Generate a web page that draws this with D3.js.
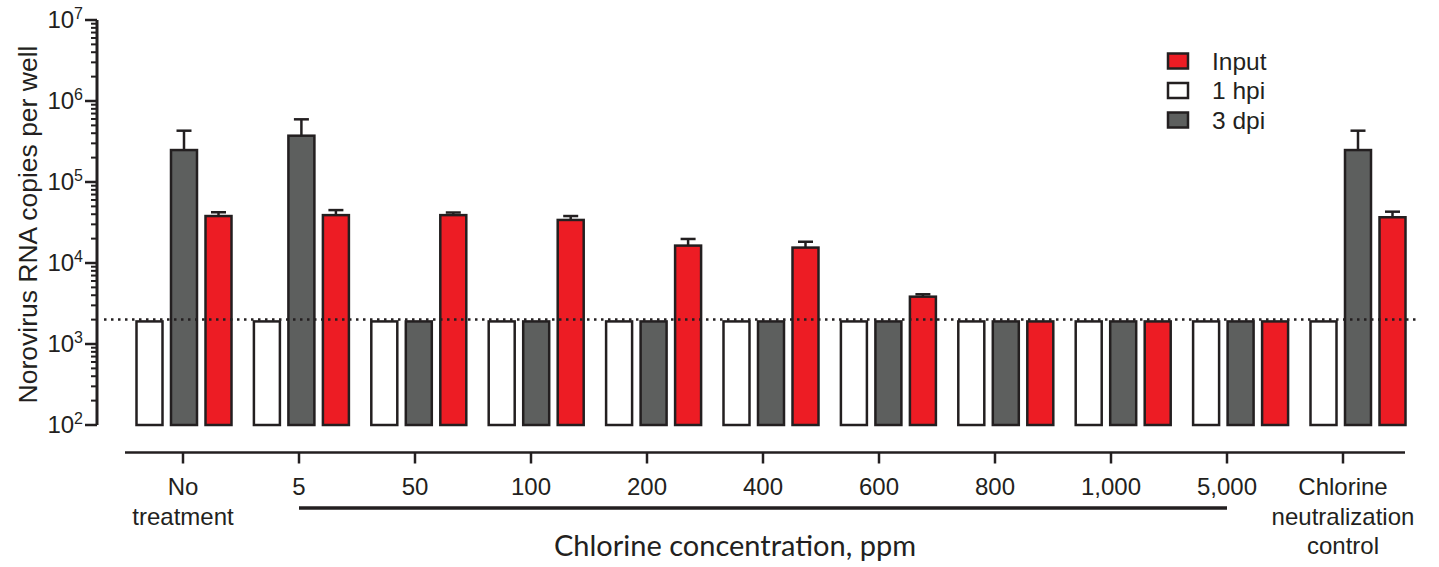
<!DOCTYPE html>
<html lang="en">
<head>
    <meta charset="UTF-8">
    <title>Norovirus RNA copies by chlorine concentration</title>
    <script src="https://d3js.org/d3.v7.min.js"></script>
    <style>
        body {
            margin: 0;
            background: #fff;
        }
        svg text {
            font-family: "Liberation Sans", Arial, sans-serif;
            fill: #231f20;
        }
    </style>
</head>
<body>
    <svg id="chart" width="1439" height="567"></svg>

    <script>
        // categories
        const groups = ["No treatment", "5", "50", "100", "200", "400", "600", "800", "1,000", "5,000",
            "Chlorine neutralization control"];
        const tickLabels = [["No", "treatment"], ["5"], ["50"], ["100"], ["200"], ["400"], ["600"],
            ["800"], ["1,000"], ["5,000"], ["Chlorine", "neutralization", "control"]];
        const seriesOrder = ["1 hpi", "3 dpi", "Input"];   // order of bars in a group
        const legendOrder = ["Input", "1 hpi", "3 dpi"];

        // values (copies per well)
        const hpi1 = [1900, 1900, 1900, 1900, 1900, 1900, 1900, 1900, 1900, 1900, 1900];
        const dpi3 = [248000, 373000, 1900, 1900, 1900, 1900, 1900, 1900, 1900, 1900, 248000];
        const dpi3Err = [430000, 594000, null, null, null, null, null, null, null, null, 430000];
        const input = [38000, 39000, 39000, 34000, 16400, 15500, 3840, 1900, 1900, 1900, 36700];
        const inputErr = [42300, 45000, 42000, 38000, 19800, 18300, 4110, null, null, null, 43000];
        const hpi1Err = hpi1.map(() => null);

        const detectionLimit = 2000;
        const yTicks = [1e2, 1e3, 1e4, 1e5, 1e6, 1e7];

        const colors = { "Input": "#ed1c24", "1 hpi": "#ffffff", "3 dpi": "#5d5f5e" };
        const ink = "#231f20";

        const series = {
            "1 hpi": { values: hpi1, err: hpi1Err },
            "3 dpi": { values: dpi3, err: dpi3Err },
            "Input": { values: input, err: inputErr }
        };

        const svg = d3.select("#chart");

        const y = d3.scaleLog().domain([1e2, 1e7]).range([425, 20]);
        const xGroup = d3.scalePoint().domain(groups).range([184, 1358]);
        const xTick = d3.scalePoint().domain(groups).range([183, 1343]);
        const xSeries = d3.scalePoint().domain(seriesOrder).range([-34.5, 34.5]);
        const barW = 26;

        // y axis
        const minorTicks = [];
        for (let e = 2; e < 7; e++) {
            for (let m = 2; m <= 9; m++) minorTicks.push(m * Math.pow(10, e));
        }
        const yAxisG = svg.append("g").attr("transform", "translate(97,0)");
        yAxisG.append("line")
            .attr("y1", y(1e2)).attr("y2", y(1e7))
            .attr("stroke", ink).attr("stroke-width", 3);
        yAxisG.selectAll(".minor").data(minorTicks).enter().append("line")
            .attr("x1", -6).attr("x2", 0)
            .attr("y1", d => y(d)).attr("y2", d => y(d))
            .attr("stroke", ink).attr("stroke-width", 2);
        yAxisG.selectAll(".major").data(yTicks).enter().append("line")
            .attr("x1", -12).attr("x2", 0)
            .attr("y1", d => y(d)).attr("y2", d => y(d))
            .attr("stroke", ink).attr("stroke-width", 2.5);
        const yLab = yAxisG.selectAll(".ylab").data(yTicks).enter().append("text")
            .attr("x", -14).attr("y", d => y(d) + 8)
            .attr("text-anchor", "end")
            .style("font-size", "24px");
        yLab.append("tspan").text("10");
        yLab.append("tspan").attr("dy", -9).style("font-size", "16px")
            .text(d => Math.round(Math.log10(d)));

        svg.append("text")
            .attr("transform", `translate(37,${(y(1e2) + y(1e7)) / 2 + 2}) rotate(-90)`)
            .attr("text-anchor", "middle")
            .style("font-size", "26.5px")
            .text("Norovirus RNA copies per well");

        // bars
        const plot = svg.append("g");
        seriesOrder.forEach(s => {
            const rows = groups.map((g, i) => ({ g, v: series[s].values[i], e: series[s].err[i] }));
            const sg = plot.append("g");
            sg.selectAll("rect").data(rows).enter().append("rect")
                .attr("x", d => xGroup(d.g) + xSeries(s) - barW / 2)
                .attr("y", d => y(d.v))
                .attr("width", barW)
                .attr("height", d => y(1e2) - y(d.v))
                .attr("fill", colors[s])
                .attr("stroke", ink)
                .attr("stroke-width", 2.5);
            const errs = rows.filter(d => d.e != null);
            sg.selectAll(".ev").data(errs).enter().append("line")
                .attr("x1", d => xGroup(d.g) + xSeries(s))
                .attr("x2", d => xGroup(d.g) + xSeries(s))
                .attr("y1", d => y(d.v)).attr("y2", d => y(d.e))
                .attr("stroke", ink).attr("stroke-width", 2.5);
            sg.selectAll(".ec").data(errs).enter().append("line")
                .attr("x1", d => xGroup(d.g) + xSeries(s) - 7.5)
                .attr("x2", d => xGroup(d.g) + xSeries(s) + 7.5)
                .attr("y1", d => y(d.e)).attr("y2", d => y(d.e))
                .attr("stroke", ink).attr("stroke-width", 2.5);
        });

        // limit of detection
        svg.append("line")
            .attr("x1", 104).attr("x2", 1418)
            .attr("y1", y(detectionLimit)).attr("y2", y(detectionLimit))
            .attr("stroke", ink).attr("stroke-width", 2.5)
            .attr("stroke-dasharray", "2.5,4.5");

        // x axis
        const xAxisY = 452.5;
        svg.append("line")
            .attr("x1", 125).attr("x2", 1405)
            .attr("y1", xAxisY).attr("y2", xAxisY)
            .attr("stroke", ink).attr("stroke-width", 2.5);
        svg.selectAll(".xtick").data(groups).enter().append("line")
            .attr("x1", d => xTick(d)).attr("x2", d => xTick(d))
            .attr("y1", xAxisY).attr("y2", xAxisY + 11)
            .attr("stroke", ink).attr("stroke-width", 2.5);
        const xLab = svg.selectAll(".xlab").data(groups).enter().append("text")
            .attr("x", d => xTick(d))
            .attr("y", 495)
            .attr("text-anchor", "middle")
            .style("font-size", "24px");
        xLab.selectAll("tspan").data((d, i) => tickLabels[i]).enter().append("tspan")
            .attr("x", function () { return d3.select(this.parentNode).attr("x"); })
            .attr("dy", (d, i) => i === 0 ? 0 : 29.5)
            .text(d => d);

        // bracket under chlorine concentrations
        svg.append("line")
            .attr("x1", xTick("5")).attr("x2", xTick("5,000"))
            .attr("y1", 508).attr("y2", 508)
            .attr("stroke", ink).attr("stroke-width", 3.5);
        svg.append("text")
            .attr("x", (xTick("5") + xTick("5,000")) / 2 - 28)
            .attr("y", 556)
            .attr("text-anchor", "middle")
            .style("font-family", "Lato, 'Open Sans', sans-serif")
            .style("font-size", "29px")
            .text("Chlorine concentration, ppm");

        // legend
        const legend = svg.append("g").attr("transform", "translate(1168,61)");
        const li = legend.selectAll("g").data(legendOrder).enter().append("g")
            .attr("transform", (d, i) => `translate(0,${i * 29.5})`);
        li.append("rect")
            .attr("x", 0).attr("y", -7.5).attr("width", 20).attr("height", 15)
            .attr("fill", d => colors[d])
            .attr("stroke", ink).attr("stroke-width", 2.5);
        li.append("text")
            .attr("x", 44).attr("y", 8.5)
            .style("font-size", "24.5px")
            .text(d => d);
    </script>
</body>
</html>
